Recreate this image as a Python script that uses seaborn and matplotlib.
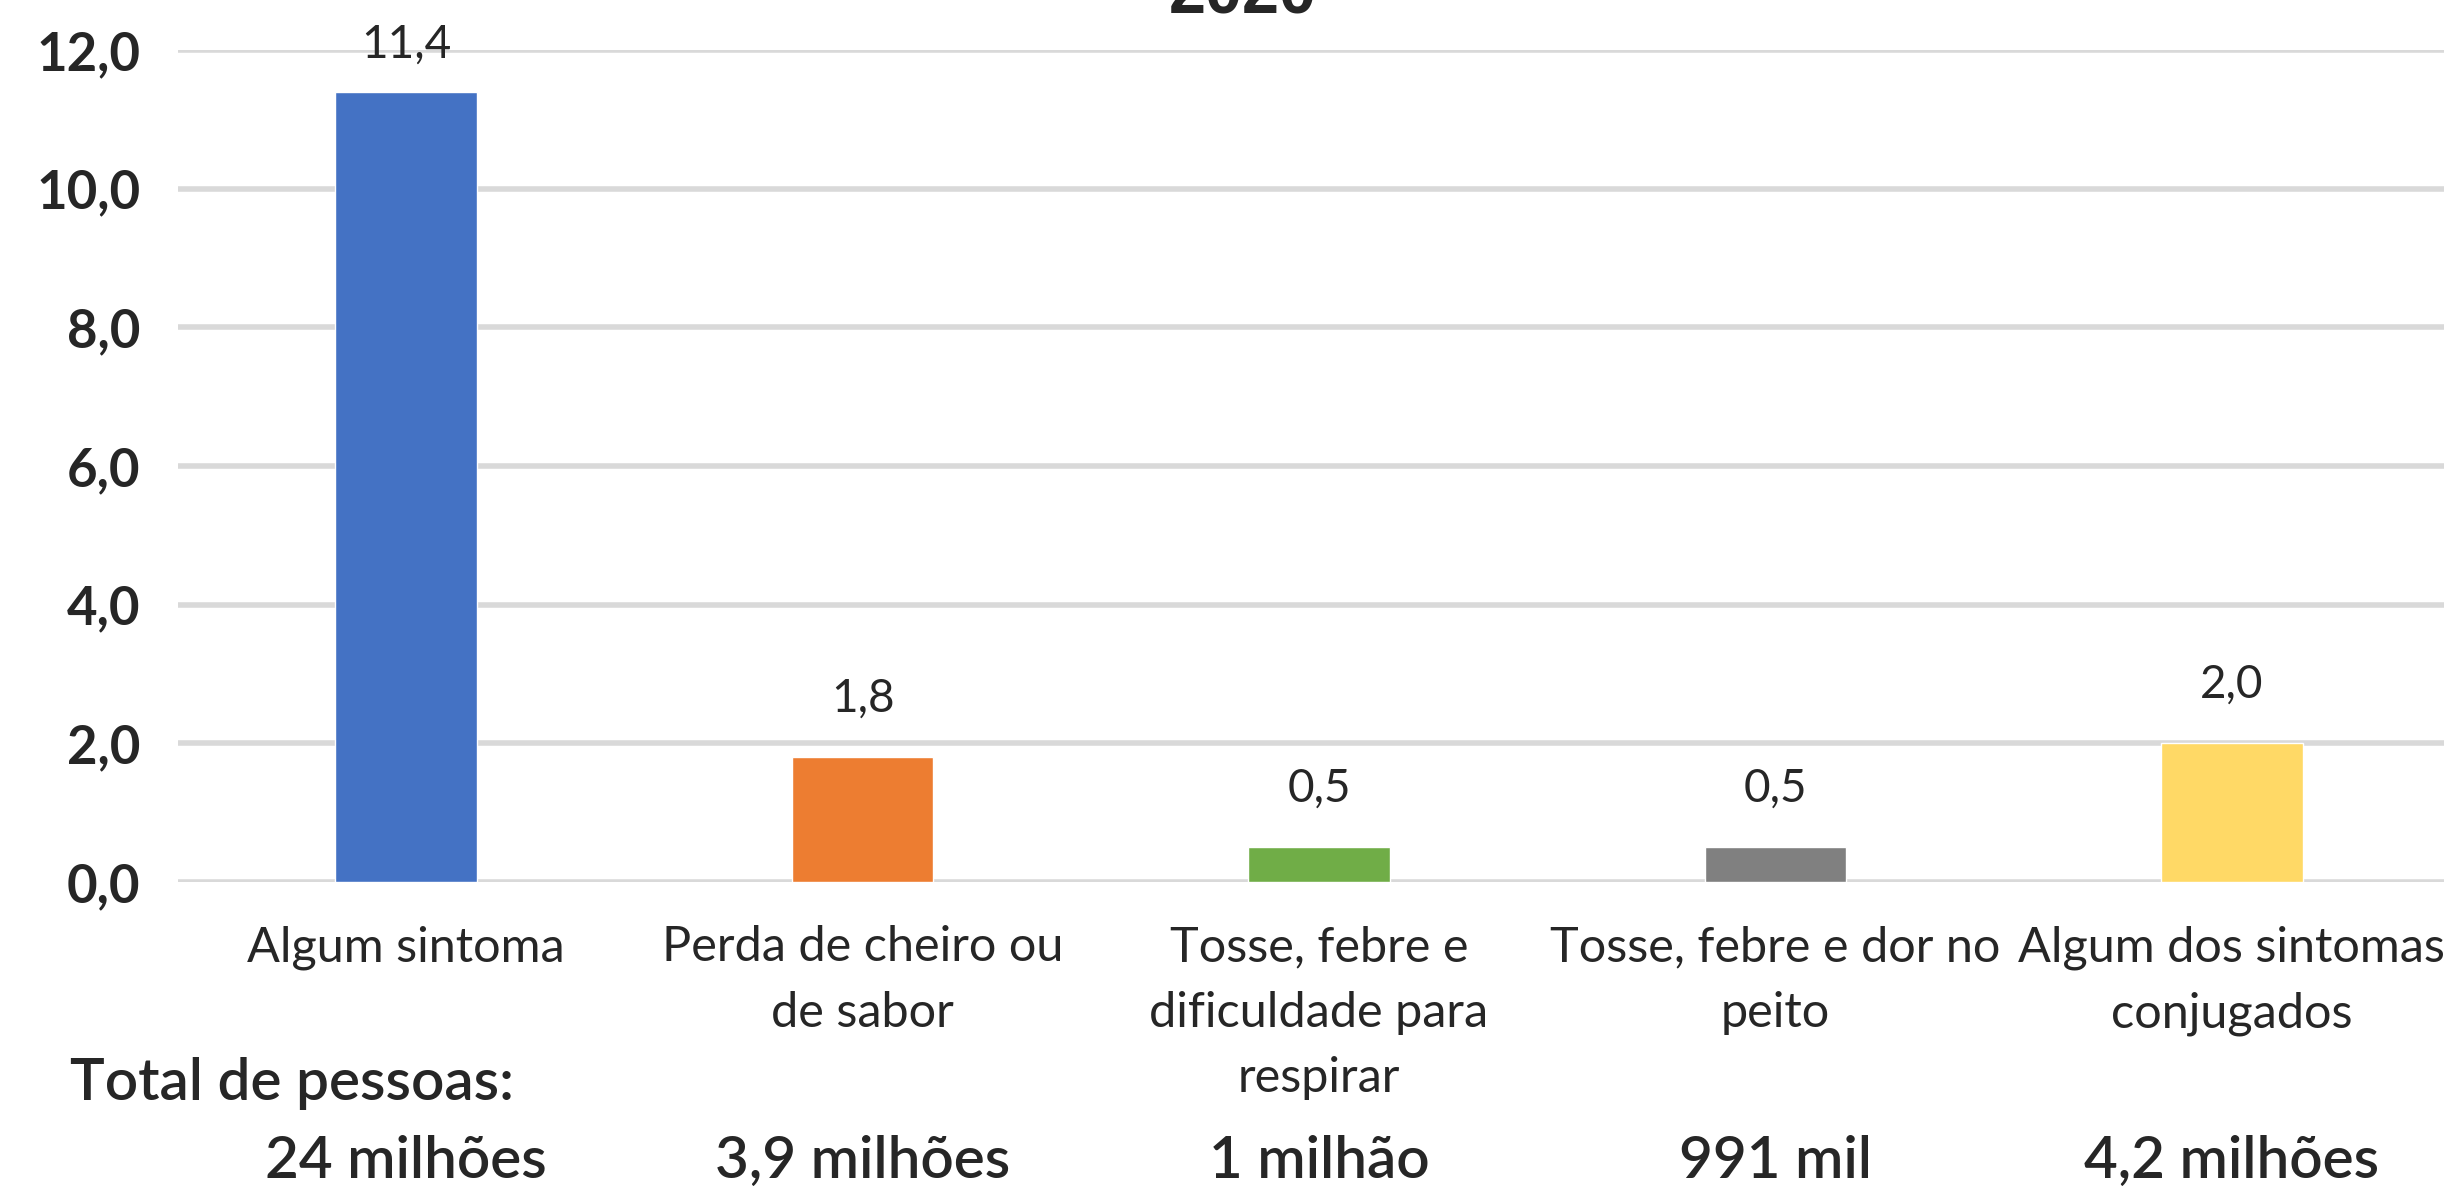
import matplotlib
matplotlib.use("Agg")
import matplotlib.pyplot as plt
import matplotlib.transforms as mtransforms
import seaborn as sns

# ==============================
# DATA
# ==============================
categorias = [
    "Algum sintoma",
    "Perda de cheiro ou\nde sabor",
    "Tosse, febre e\ndificuldade para\nrespirar",
    "Tosse, febre e dor no\npeito",
    "Algum dos sintomas\nconjugados",
]
percentuais = [11.4, 1.8, 0.5, 0.5, 2.0]
totais = ["24 milhões", "3,9 milhões", "1 milhão", "991 mil", "4,2 milhões"]
cores = ["#4472C4", "#ED7D31", "#70AD47", "#808080", "#FFD966"]
yticks = [0, 2, 4, 6, 8, 10, 12]

sns.set_style("white")
plt.rcParams["font.family"] = ["Lato", "DejaVu Sans"]

W, H = 2444, 1189
fig = plt.figure(figsize=(W / 100, H / 100), dpi=100)
ax = fig.add_axes([178 / W, 1 - 882 / H, (2460 - 178) / W, (882 - 50) / H])

sns.barplot(x=categorias, y=percentuais, hue=categorias, palette=cores,
            width=0.31, legend=False, ax=ax, saturation=1)

ax.set_ylim(0, 12)
ax.set_xlim(-0.5, len(categorias) - 0.5)
ax.set_yticks(yticks)
ax.set_yticklabels([f"{v:.1f}".replace(".", ",") for v in yticks],
                   fontsize=38, fontweight="bold")
ax.yaxis.grid(True, color="#D9D9D9", linewidth=4)
ax.set_axisbelow(True)
for s in ax.spines.values():
    s.set_visible(False)
ax.tick_params(axis="y", length=0, pad=27)
ax.tick_params(axis="x", length=0, pad=31)
for lbl in ax.get_xticklabels():
    lbl.set_fontsize(35)
    lbl.set_linespacing(1.6)
ax.set_xlabel("")
ax.set_ylabel("")

# data labels (the top one sits a bit closer to its bar)
for cont in ax.containers:
    v = cont.datavalues[0]
    ax.bar_label(cont, labels=[f"{v:.1f}".replace(".", ",")],
                 padding=19 if v > 10 else 27, fontsize=33, clip_on=False)

# totals row
fig.text(70 / W, 1 - 1083 / H, "Total de pessoas:", fontsize=42,
         fontweight="semibold", va="center", ha="left")
trans = mtransforms.blended_transform_factory(ax.transData, fig.transFigure)
for i, t in enumerate(totais):
    ax.text(i, 1 - 1161 / H, t, transform=trans, fontsize=42,
            fontweight="semibold", ha="center", va="center", clip_on=False)

# title cut off at top of the image
fig.text(1243 / W, 1 - 13 / H, "2020", fontsize=48, fontweight="bold",
         ha="center", va="baseline", family=["Liberation Sans", "DejaVu Sans"])

fig.savefig("out.png", dpi=100)
